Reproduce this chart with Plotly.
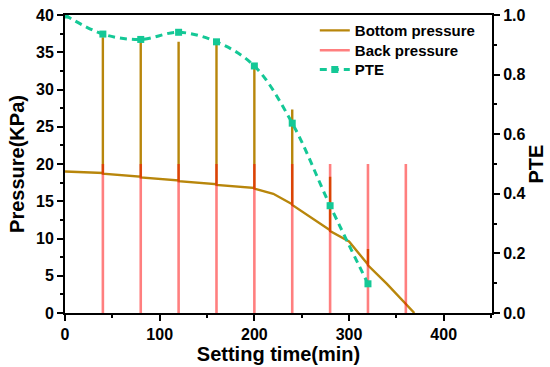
import plotly.graph_objects as go

# ---- data ----
bottom_time = [0, 40, 40, 40, 80, 80, 80, 120, 120, 120, 160, 160, 160,
               200, 200, 200, 220, 240, 240, 240, 280, 280, 280, 300,
               320, 320, 320, 340, 360, 369]
bottom_pressure = [19.0, 18.8, 37.0, 18.7, 18.3, 36.5, 18.2, 17.8, 36.4, 17.7,
                   17.3, 36.0, 17.2, 16.8, 33.0, 16.7, 16.0, 14.6, 27.3, 14.5,
                   11.1, 18.3, 11.0, 9.6, 6.5, 8.6, 6.4, 3.9, 1.2, 0.0]

back_times = [40, 80, 120, 160, 200, 240, 280, 320, 360]
back_level = 20

pte_time = [0, 40, 80, 120, 160, 200, 240, 280, 320]
pte_values = [1.0, 0.936, 0.918, 0.942, 0.91, 0.829, 0.637, 0.36, 0.098]

# build vertical segments for back pressure
bx, by = [], []
for t in back_times:
    bx += [t, t, None]
    by += [0, back_level, None]

FONT = "Arial, Liberation Sans, sans-serif"
BROWN = "#B8860B"
RED = "rgba(255,0,0,0.5)"
TEAL = "#14C896"

fig = go.Figure()
fig.add_trace(go.Scatter(x=bottom_time, y=bottom_pressure, mode="lines",
                         name="Bottom pressure", legend="legend",
                         line=dict(color=BROWN, width=2.4)))
fig.add_trace(go.Scatter(x=bx, y=by, mode="lines", name="Back pressure",
                         legend="legend2",
                         line=dict(color=RED, width=2.6)))
fig.add_trace(go.Scatter(x=pte_time, y=pte_values, mode="lines+markers",
                         name="PTE", yaxis="y2", legend="legend3",
                         line=dict(color=TEAL, width=3, dash="7px,5px",
                                   shape="spline", smoothing=1),
                         marker=dict(symbol="square", size=7, color=TEAL)))

tickfont = dict(family=FONT, size=16, color="black", weight="bold")
titlefont = dict(family=FONT, size=20, color="black", weight="bold")
legfont = dict(family=FONT, size=15, color="black", weight="bold")


def leg(y):
    return dict(x=0.585, y=y, xanchor="left", yanchor="top",
                bgcolor="rgba(0,0,0,0)", borderwidth=0, font=legfont,
                itemwidth=30)


fig.update_layout(
    width=550, height=367,
    margin=dict(l=65, r=58, t=15, b=54),
    paper_bgcolor="white", plot_bgcolor="white",
    font=dict(family=FONT, color="black"),
    showlegend=True,
    legend=leg(1.003),
    legend2=leg(0.936),
    legend3=leg(0.872),
    xaxis=dict(range=[0, 451], tick0=0, dtick=100, ticks="outside",
               ticklen=6, tickwidth=2, tickcolor="black",
               showline=True, linewidth=2, linecolor="black", mirror=True,
               showgrid=False, zeroline=False, tickfont=tickfont,
               automargin=False,
               minor=dict(dtick=50, tick0=0, ticks="outside", ticklen=3,
                          tickwidth=2, tickcolor="black", showgrid=False),
               title=dict(text="Setting time(min)", font=titlefont, standoff=2)),
    yaxis=dict(range=[0, 40], tick0=0, dtick=5, ticks="outside",
               ticklen=6, tickwidth=2, tickcolor="black",
               showline=True, linewidth=2, linecolor="black", mirror=False,
               showgrid=False, zeroline=False, tickfont=tickfont,
               automargin=False,
               minor=dict(dtick=2.5, tick0=0, ticks="outside", ticklen=3,
                          tickwidth=2, tickcolor="black", showgrid=False),
               title=dict(text="Pressure(KPa)", font=titlefont, standoff=6)),
    yaxis2=dict(range=[0, 1], tick0=0, dtick=0.2, tickformat=".1f",
                overlaying="y", side="right", ticks="outside",
                ticklen=6, tickwidth=2, tickcolor="black",
                showline=True, linewidth=2, linecolor="black",
                showgrid=False, zeroline=False, tickfont=tickfont,
                automargin=False,
                minor=dict(dtick=0.1, tick0=0, ticks="outside", ticklen=3,
                           tickwidth=2, tickcolor="black", showgrid=False),
                title=dict(text="PTE", font=titlefont, standoff=4)),
)

fig.write_html("out.html",
               config={"displayModeBar": False},
               post_script="document.body.style.margin='0px';"
                           "document.body.style.overflow='hidden';")
